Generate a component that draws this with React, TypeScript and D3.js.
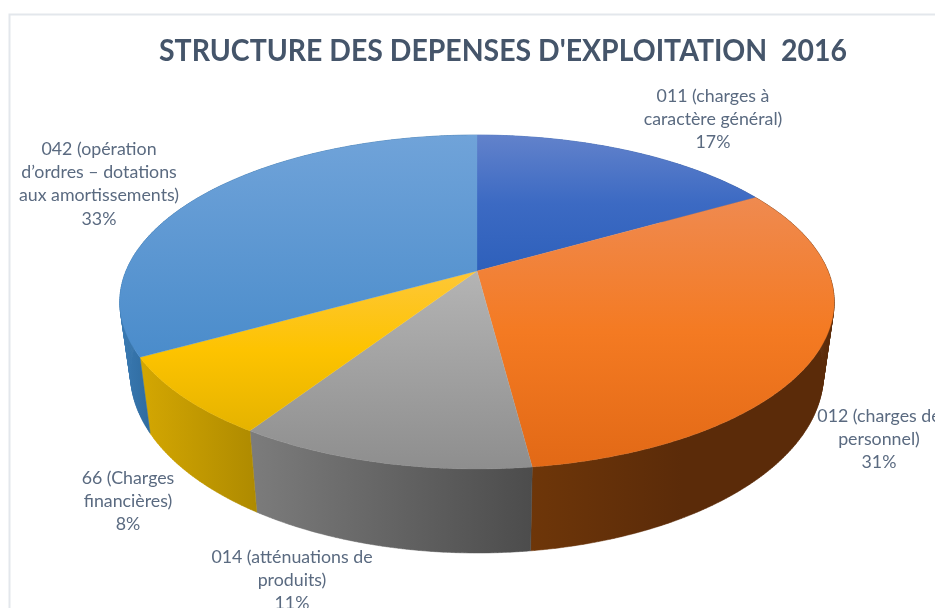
import React from "react";
import * as d3 from "d3";

const categories = ["011", "012", "014", "66", "042"];
const values = [16.7, 31.25, 11.25, 7.7, 33.1];
const labels = [
  ["011 (charges à", "caractère général)", "17%"],
  ["012 (charges de", "personnel)", "31%"],
  ["014 (atténuations de", "produits)", "11%"],
  ["66 (Charges", "financières)", "8%"],
  ["042 (opération", "d’ordres – dotations", "aux amortissements)", "33%"],
];
const labelAnchors: [number, number][] = [
  [713, 102],
  [879, 422],
  [292, 563],
  [128, 484],
  [99, 155],
];
const topGradients = [
  ["#6282cb", "#3c6ac3", "#2e60bb"],
  ["#ef8a50", "#f47a22", "#e26916"],
  ["#b4b4b4", "#8e8e8e"],
  ["#fec737", "#fdc300", "#e5b300"],
  ["#70a3d9", "#4a8ccb"],
];
const sideGradients = [
  ["#3d6ab5", "#2b4f8e"],
  ["#6e3609", "#5b2b09", "#5b2b09"],
  ["#7c7c7c", "#4c4c4c"],
  ["#d4a702", "#ae8a00"],
  ["#3a7ab3", "#2f6b9f"],
];

const W = 935;
const H = 608;
const cx = 477;
const cy = 271;
const A = 351;
const B = 161.2;
const k = 0.1856;
const depthScaleX = 0.97;
const depthScaleY = 1.073;
const depthCy = 340.6;

const xScale = d3.scaleLinear().domain([-1, 1]).range([cx - A, cx + A]);
const yScale = d3.scaleLinear().domain([-1, 1]).range([cy - B, cy + B]);
const bottomX = d3.scaleLinear().domain([cx - 1, cx + 1]).range([cx - depthScaleX, cx + depthScaleX]);
const bottomY = d3.scaleLinear().domain([cy - 1, cy + 1]).range([depthCy - depthScaleY, depthCy + depthScaleY]);

type P = [number, number];
function top(theta: number): P {
  const u = Math.sin(theta);
  const v = -Math.cos(theta);
  const d = 1 - k * v;
  return [xScale(u / d), yScale(v / d)];
}
function bottom(theta: number): P {
  const [x, y] = top(theta);
  return [bottomX(x), bottomY(y)];
}
function sample(a0: number, a1: number): number[] {
  const n = Math.max(2, Math.ceil((a1 - a0) / 0.01));
  return d3.range(n + 1).map((i) => a0 + ((a1 - a0) * i) / n);
}

const line = d3.line<P>().x((d) => d[0]).y((d) => d[1]);
const arcs = d3.pie<number>().sort(null).value((d) => d)(values);

export default function App() {
  const slices = arcs.map((a, i) => {
    const thetas = sample(a.startAngle, a.endAngle);
    const tp = thetas.map(top);
    const bt = thetas.map(bottom);
    const ys = tp.map((p) => p[1]).concat([cy]);
    const face = line([[cx, cy] as P, ...tp])! + "Z";
    // one quad per sampled step, so the silhouette joins both rims by a straight tangent
    const side = d3
      .range(thetas.length - 1)
      .map((j) => line([tp[j], tp[j + 1], bt[j + 1], bt[j]])! + "Z")
      .join("");
    const xs = tp.concat(bt).map((p) => p[0]);
    return {
      i,
      face,
      side,
      y0: d3.min(ys)!,
      y1: d3.max(ys)!,
      x0: d3.min(xs)!,
      x1: d3.max(xs)!,
    };
  });
  return (
    <svg
      width={W}
      height={H}
      viewBox={`0 0 ${W} ${H}`}
      style={{ position: "absolute", left: 0, top: 0, background: "#fff" }}
      fontFamily="Lato, 'Open Sans', sans-serif"
    >
      <defs>
        <filter id="soft" x="-5%" y="-5%" width="110%" height="110%">
          <feGaussianBlur stdDeviation="0.45" />
        </filter>
        {slices.map((s) => {
          const tg = topGradients[s.i];
          const sg = sideGradients[s.i];
          return (
            <React.Fragment key={s.i}>
              <linearGradient id={`t${s.i}`} gradientUnits="userSpaceOnUse" x1={0} x2={0} y1={s.y0} y2={s.y1}>
                {tg.map((c, j) => (
                  <stop key={j} offset={j / (tg.length - 1)} stopColor={c} />
                ))}
              </linearGradient>
              <linearGradient id={`s${s.i}`} gradientUnits="userSpaceOnUse" x1={s.i === 4 ? 120 : s.x0} x2={s.i === 4 ? 150 : s.x1} y1={0} y2={0}>
                {sg.map((c, j) => (
                  <stop key={j} offset={j / (sg.length - 1)} stopColor={c} />
                ))}
              </linearGradient>
            </React.Fragment>
          );
        })}
      </defs>
      <path d={`M9.5 ${H} V14.5 H${W}`} fill="none" stroke="#e3e7ec" strokeWidth={2} />
      <g>
        {slices.map((s) => (
          <path key={s.i} d={s.side} fill={`url(#s${s.i})`} stroke={`url(#s${s.i})`} strokeWidth={0.5} />
        ))}
        {slices.map((s) => (
          <path key={s.i} d={s.face} fill={`url(#t${s.i})`} stroke={`url(#t${s.i})`} strokeWidth={0.3} />
        ))}
      </g>
      <g filter="url(#soft)">
        <text
          x={503}
          y={60.5}
          textAnchor="middle"
          fontSize={31}
          fontWeight={700}
          fill="#44546a"
          xmlSpace="preserve"
          textLength={688}
          lengthAdjust="spacingAndGlyphs"
        >
          STRUCTURE DES DEPENSES D'EXPLOITATION  2016
        </text>
        {labels.map((ls, i) => (
          <text key={categories[i]} textAnchor="middle" fontSize={17.8} fill="#5a6a80">
            {ls.map((t, j) => (
              <tspan key={j} x={labelAnchors[i][0]} y={labelAnchors[i][1] + j * 23.2}>
                {t}
              </tspan>
            ))}
          </text>
        ))}
      </g>
    </svg>
  );
}
